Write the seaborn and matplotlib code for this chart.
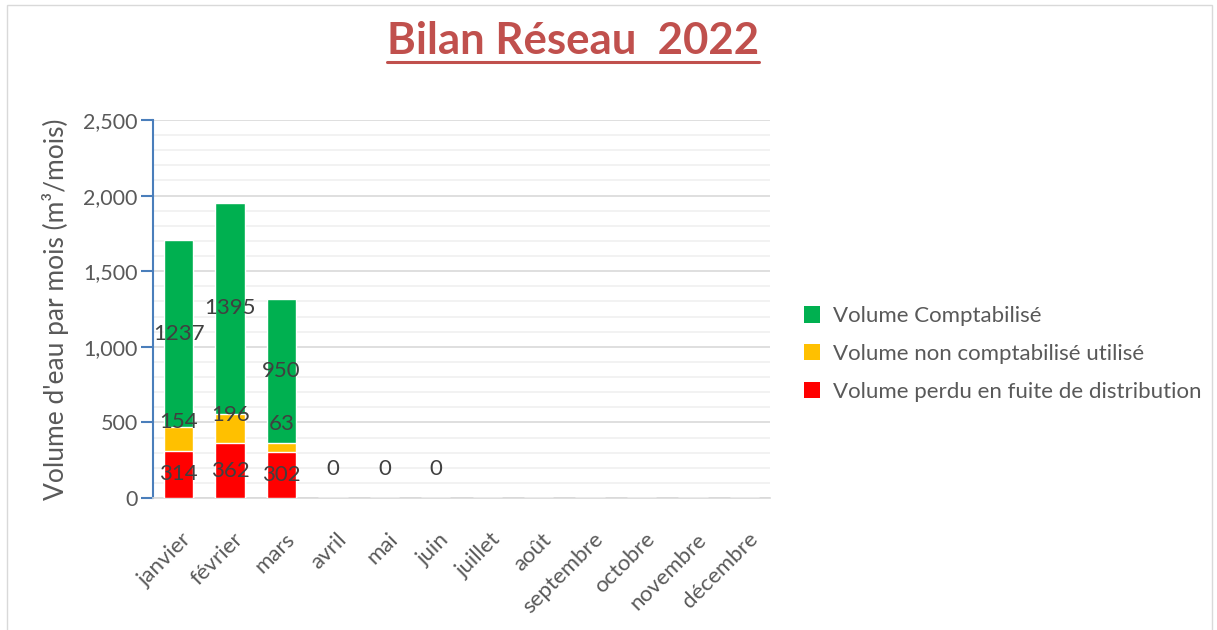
import matplotlib.pyplot as plt
import seaborn as sns
import numpy as np
import pandas as pd
from matplotlib.ticker import MultipleLocator, FuncFormatter
from matplotlib.patches import Rectangle, Patch
from matplotlib.lines import Line2D
from matplotlib.transforms import ScaledTranslation

# donnees
mois = ['janvier', 'février', 'mars', 'avril', 'mai', 'juin', 'juillet',
        'août', 'septembre', 'octobre', 'novembre', 'décembre']
fuite = [314, 362, 302, np.nan, np.nan, np.nan, np.nan, np.nan, np.nan, np.nan, np.nan, np.nan]
non_compta = [154, 196, 63, np.nan, np.nan, np.nan, np.nan, np.nan, np.nan, np.nan, np.nan, np.nan]
compta = [1237, 1395, 950, 0, 0, 0, np.nan, np.nan, np.nan, np.nan, np.nan, np.nan]
# position (en m3) des etiquettes comme Excel les a placees
pos_non_compta = [505, 550, 490]
pos_zero = 190

series = ['Volume Comptabilisé', 'Volume non comptabilisé utilisé',
          'Volume perdu en fuite de distribution']
couleurs = ['#00B050', '#FFC000', '#FF0000']

df = pd.DataFrame({'mois': mois, 'fuite': fuite, 'non_compta': non_compta, 'compta': compta})
df = df.fillna(0)
df['cum_jaune'] = df['fuite'] + df['non_compta']
df['total'] = df['cum_jaune'] + df['compta']

sns.set_style('white')
plt.rcParams['font.family'] = ['Lato', 'DejaVu Sans']

fig = plt.figure(figsize=(12.17, 6.3), dpi=100)
ax = fig.add_axes([0.1257, 0.2095, 0.507, 0.6])

# barres empilees : on dessine les cumuls du haut vers le bas
sns.barplot(data=df, x='mois', y='total', order=mois, color=couleurs[0],
            width=0.57, saturation=1, ax=ax, zorder=3)
sns.barplot(data=df, x='mois', y='cum_jaune', order=mois, color=couleurs[1],
            width=0.57, saturation=1, ax=ax, zorder=3)
sns.barplot(data=df, x='mois', y='fuite', order=mois, color=couleurs[2],
            width=0.57, saturation=1, ax=ax, zorder=3)

# etiquettes
lab_kw = dict(ha='center', va='center', color='#404040', fontsize=16, zorder=5)
for i in range(len(mois)):
    if not np.isnan(fuite[i]):
        ax.text(i, fuite[i] / 2, f'{fuite[i]:.0f}', **lab_kw)
    if i < len(pos_non_compta):
        ax.text(i, pos_non_compta[i], f'{non_compta[i]:.0f}', **lab_kw)
    if not np.isnan(compta[i]):
        if compta[i] > 0:
            base = fuite[i] + non_compta[i]
            ax.text(i, base + compta[i] / 2, f'{compta[i]:.0f}', **lab_kw)
        else:
            ax.text(i, pos_zero, '0', **lab_kw)

ax.set_ylim(0, 2500)
ax.set_xlim(-0.5, 11.5)
ax.yaxis.set_major_locator(MultipleLocator(500))
ax.yaxis.set_minor_locator(MultipleLocator(100))
ax.yaxis.set_major_formatter(FuncFormatter(lambda v, p: f'{v:,.0f}'))
ax.grid(axis='y', which='major', color='#D9D9D9', lw=1.2, zorder=0)
ax.grid(axis='y', which='minor', color='#F0F0F0', lw=1.2, zorder=0)
ax.set_axisbelow(True)

for s in ['top', 'right']:
    ax.spines[s].set_visible(False)
ax.spines['left'].set_color('#4A7EBB')
ax.spines['left'].set_linewidth(1.5)
ax.spines['bottom'].set_color('#D9D9D9')
ax.spines['bottom'].set_linewidth(1.2)

ax.tick_params(axis='y', which='major', direction='out', length=9, width=1.5,
               color='#4A7EBB', labelsize=15.5, labelcolor='#595959', pad=2, left=True)
ax.tick_params(axis='y', which='minor', left=False)
ax.tick_params(axis='x', length=0, labelsize=16, labelcolor='#595959', pad=8)
decal = ScaledTranslation(3 / 100, -20 / 100, fig.dpi_scale_trans)
for t in ax.get_xticklabels():
    t.set_rotation(45)
    t.set_ha('right')
    t.set_rotation_mode('anchor')
    t.set_transform(t.get_transform() + decal)

ax.set_xlabel('')
ax.set_ylabel("Volume d'eau par mois (m³/mois)", fontsize=19, color='#595959', labelpad=10)

# legende
handles = [Patch(facecolor=c, edgecolor='none') for c in couleurs]
fig.legend(handles, series, loc='center left', bbox_to_anchor=(0.644, 0.438),
           frameon=False, fontsize=16, labelcolor='#595959', handlelength=0.75,
           handleheight=0.75, handletextpad=0.55, labelspacing=0.8)

# titre souligne
titre = fig.text(0.471, 0.935, 'Bilan Réseau  2022', ha='center', va='center',
                 fontsize=31.5, fontweight='bold', color='#C0504D')
fig.canvas.draw()
bb = titre.get_window_extent(fig.canvas.get_renderer())
y_line = 1 - 62 / 630
fig.add_artist(Line2D([bb.x0 / fig.bbox.width, bb.x1 / fig.bbox.width], [y_line, y_line],
                      transform=fig.transFigure, color='#C0504D', lw=2.2))

# cadre du graphique
fig.add_artist(Rectangle((0.006, -0.02), 0.99, 1.012, transform=fig.transFigure,
                         fill=False, edgecolor='#D9D9D9', lw=1))

fig.savefig('out.png', dpi=100)
